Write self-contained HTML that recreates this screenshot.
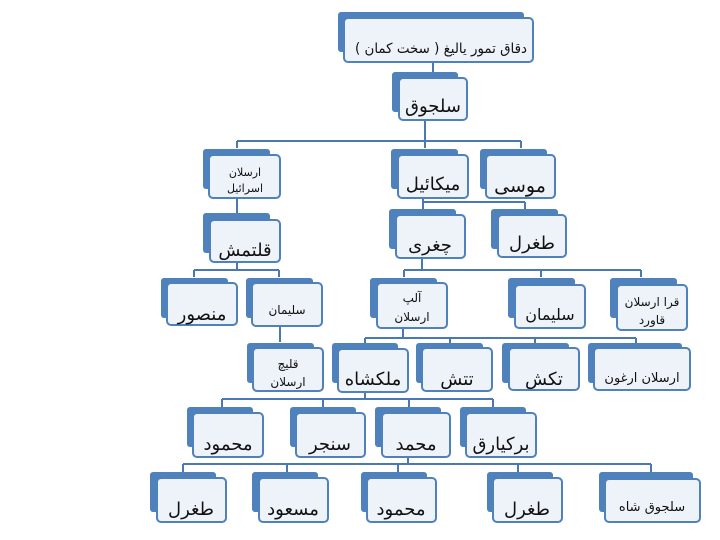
<!DOCTYPE html>
<html><head><meta charset="utf-8">
<style>
html,body{margin:0;padding:0;background:#fff;width:720px;height:540px;overflow:hidden}
svg text{font-family:"DejaVu Sans",sans-serif;fill:#111;text-anchor:middle}
</style></head><body>
<svg id="s" width="720" height="540" viewBox="0 0 720 540" xmlns="http://www.w3.org/2000/svg">
<g stroke="#4a78b4" stroke-width="2" fill="none">
<path d="M433 62V72"/>
<path d="M425 120V141M237 141H521M237 141V148M425 141V148M521 141V148"/>
<path d="M237 198V213"/>
<path d="M423 198V202M423 202H525M423 202V209M525 202V209"/>
<path d="M237 262V270M194 270H279M194 270V277M279 270V277"/>
<path d="M422 258V270M404 270H641M404 270V277M541 270V277M641 270V277"/>
<path d="M280 326V342"/>
<path d="M403 328V338M365 338H636M365 338V343M450 338V343M535 338V343M636 338V343"/>
<path d="M365 392V399M222 399H493M222 399V407M323 399V407M409 399V407M493 399V407"/>
<path d="M408 457V464M183 464H651M183 464V472M287 464V472M398 464V472M518 464V472M651 464V472"/>
</g>
<g fill="#4f81bd">
<rect x="338" y="12" width="186" height="40" rx="3"/>
<rect x="392" y="72" width="66" height="40" rx="3"/>
<rect x="203" y="149" width="67" height="40" rx="3"/>
<rect x="391" y="149" width="67" height="40" rx="3"/>
<rect x="480" y="149" width="67" height="40" rx="3"/>
<rect x="203" y="213" width="67" height="40" rx="3"/>
<rect x="389" y="209" width="67" height="40" rx="3"/>
<rect x="491" y="209" width="67" height="40" rx="3"/>
<rect x="161" y="278" width="67" height="40" rx="3"/>
<rect x="246" y="278" width="67" height="40" rx="3"/>
<rect x="370" y="278" width="67" height="40" rx="3"/>
<rect x="508" y="278" width="67" height="40" rx="3"/>
<rect x="610" y="278" width="67" height="40" rx="3"/>
<rect x="247" y="343" width="67" height="40" rx="3"/>
<rect x="332" y="343" width="66" height="40" rx="3"/>
<rect x="416" y="343" width="67" height="40" rx="3"/>
<rect x="502" y="343" width="67" height="40" rx="3"/>
<rect x="588" y="343" width="94" height="40" rx="3"/>
<rect x="187" y="407" width="66" height="40" rx="3"/>
<rect x="290" y="407" width="66" height="40" rx="3"/>
<rect x="375" y="407" width="66" height="40" rx="3"/>
<rect x="460" y="407" width="66" height="40" rx="3"/>
<rect x="150" y="472" width="66" height="40" rx="3"/>
<rect x="252" y="472" width="66" height="40" rx="3"/>
<rect x="361" y="472" width="66" height="40" rx="3"/>
<rect x="487" y="472" width="66" height="40" rx="3"/>
<rect x="599" y="472" width="94" height="40" rx="3"/>
</g>
<g fill="#eef2f9" stroke="#4f81bd" stroke-width="2">
<rect x="344" y="18" width="189" height="44" rx="4"/>
<rect x="399" y="78" width="68" height="42" rx="4"/>
<rect x="209" y="155" width="71" height="43" rx="4"/>
<rect x="398" y="155" width="70" height="43" rx="4"/>
<rect x="486" y="155" width="69" height="43" rx="4"/>
<rect x="210" y="220" width="70" height="42" rx="4"/>
<rect x="396" y="215" width="69" height="43" rx="4"/>
<rect x="498" y="215" width="68" height="42" rx="4"/>
<rect x="167" y="283" width="70" height="42" rx="4"/>
<rect x="252" y="283" width="70" height="43" rx="4"/>
<rect x="377" y="283" width="70" height="45" rx="4"/>
<rect x="515" y="285" width="70" height="43" rx="4"/>
<rect x="617" y="285" width="70" height="45" rx="4"/>
<rect x="253" y="348" width="70" height="43" rx="4"/>
<rect x="338" y="349" width="70" height="43" rx="4"/>
<rect x="422" y="348" width="70" height="43" rx="4"/>
<rect x="509" y="348" width="70" height="42" rx="4"/>
<rect x="594" y="348" width="96" height="42" rx="4"/>
<rect x="193" y="413" width="70" height="44" rx="4"/>
<rect x="296" y="413" width="69" height="44" rx="4"/>
<rect x="382" y="413" width="68" height="44" rx="4"/>
<rect x="466" y="413" width="70" height="44" rx="4"/>
<rect x="157" y="478" width="69" height="44" rx="4"/>
<rect x="259" y="478" width="69" height="44" rx="4"/>
<rect x="367" y="478" width="69" height="44" rx="4"/>
<rect x="493" y="478" width="69" height="44" rx="4"/>
<rect x="605" y="479" width="95" height="43" rx="4"/>
</g>
<g>
<text x="441" y="53" font-size="14" textLength="172" lengthAdjust="spacingAndGlyphs">دقاق تمور یالیغ ( سخت کمان )</text>
<text x="433" y="112" font-size="18">سلجوق</text>
<text x="245" y="176" font-size="11">ارسلان</text>
<text x="245" y="192" font-size="11">اسرائیل</text>
<text x="433" y="190" font-size="18">میکائیل</text>
<text x="520" y="192" font-size="19">موسی</text>
<text x="245" y="256" font-size="18">قلتمش</text>
<text x="430" y="251" font-size="18">چغری</text>
<text x="532" y="249" font-size="18">طغرل</text>
<text x="202" y="320" font-size="18">منصور</text>
<text x="287" y="314" font-size="12">سلیمان</text>
<text x="412" y="302" font-size="12">آلپ</text>
<text x="412" y="321" font-size="12">ارسلان</text>
<text x="550" y="320" font-size="16">سلیمان</text>
<text x="652" y="306" font-size="12">قرا ارسلان</text>
<text x="652" y="324" font-size="12">قاورد</text>
<text x="288" y="368" font-size="12">قلیچ</text>
<text x="288" y="386" font-size="12">ارسلان</text>
<text x="373" y="385" font-size="18">ملکشاه</text>
<text x="457" y="385" font-size="18">تتش</text>
<text x="544" y="385" font-size="18">تکش</text>
<text x="642" y="382" font-size="13">ارسلان ارغون</text>
<text x="228" y="450" font-size="18">محمود</text>
<text x="330" y="450" font-size="18">سنجر</text>
<text x="416" y="450" font-size="18">محمد</text>
<text x="501" y="450" font-size="18">برکیارق</text>
<text x="191" y="515" font-size="18">طغرل</text>
<text x="293" y="515" font-size="18">مسعود</text>
<text x="401" y="515" font-size="18">محمود</text>
<text x="527" y="515" font-size="18">طغرل</text>
<text x="652" y="511" font-size="13">سلجوق شاه</text>
</g>
</svg>
</body></html>
